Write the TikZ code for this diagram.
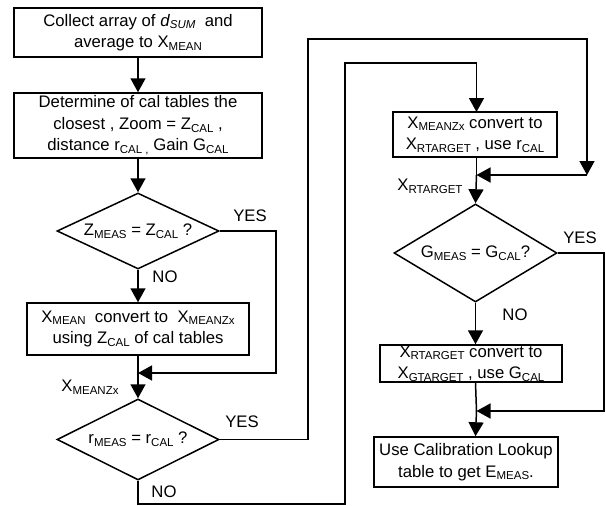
\documentclass[tikz,border=0pt]{standalone}
\usepackage{fontspec}
\setmainfont{Liberation Sans}
\usetikzlibrary{arrows.meta,shapes.geometric}
\newcommand\lowtext[1]{\raisebox{-0.3ex}{\fontsize{11.5}{11.5}\selectfont #1}}
\begin{document}
\begin{tikzpicture}[x=1pt,y=-1pt,
  every node/.style={font=\fontsize{16.7}{21.5}\selectfont},
  wire/.style={line width=1.5pt},
  flow/.style={wire,-{Triangle[width=15pt,length=14pt]}},
  proc/.style={draw,line width=1.5pt,rectangle,align=center,inner sep=0pt},
  test/.style={draw,line width=1.5pt,diamond,inner sep=0pt},
  tag/.style={inner sep=0pt}]
\useasboundingbox (0,0) rectangle (606,506);

% left column
\node[proc,minimum width=248pt,minimum height=49pt] (b1) at (138,32.5)
  {Collect array of \textit{d}\lowtext{\textit{SUM}}\ \ and\\average to X\lowtext{MEAN}};
\node[proc,minimum width=248pt,minimum height=65pt] (b2) at (138,125.5)
  {Determine of cal tables the\\closest , Zoom = Z\lowtext{CAL} ,\\distance r\lowtext{CAL ,} Gain G\lowtext{CAL}};
\node[test,minimum width=162pt,minimum height=76pt,
  label={[tag]center:Z\lowtext{MEAS} = Z\lowtext{CAL} ?}] (d1) at (138,231) {};
\node[proc,minimum width=222pt,minimum height=52pt] (b3) at (138,329)
  {X\lowtext{MEAN}\ \ convert to\ \ X\lowtext{MEANZx}\\using Z\lowtext{CAL} of cal tables};
\node[test,minimum width=162pt,minimum height=81pt,
  label={[tag]center:r\lowtext{MEAS} = r\lowtext{CAL} ?}] (d2) at (138,439.5) {};

% right column
\node[proc,minimum width=164pt,minimum height=45pt] (b4) at (475,134.5)
  {X\lowtext{MEANZx} convert to\\X\lowtext{RTARGET} , use r\lowtext{CAL}};
\node[test,minimum width=163pt,minimum height=98pt,
  label={[tag]center:G\lowtext{MEAS} = G\lowtext{CAL}?}] (d3) at (475.5,253) {};
\node[proc,minimum width=182pt,minimum height=37pt] (b5) at (471,363.5)
  {X\lowtext{RTARGET} convert to\\X\lowtext{GTARGET} , use G\lowtext{CAL}};
\node[proc,minimum width=184pt,minimum height=50pt] (b6) at (466,462)
  {Use Calibration Lookup\\table to get E\lowtext{MEAS}.};

% labels
\node[tag] (y1) at (250,216) {YES};
\node[tag] (n1) at (165,277) {NO};
\node[tag] (xz) at (90,387) {X\lowtext{MEANZx}};
\node[tag] (y2) at (242,422) {YES};
\node[tag] (n2) at (164,492) {NO};
\node[tag] (xr) at (430,186) {X\lowtext{RTARGET}};
\node[tag] (y3) at (580,238) {YES};
\node[tag] (n3) at (515,315) {NO};

% junction points
\coordinate (m1) at (138,373);
\coordinate (m2) at (476.5,175);
\coordinate (m3) at (476.5,411);
\coordinate (c1) at (587,175);

% left column connectors
\draw[flow] (b1.south) -- (b2.north);
\draw[flow] (b2.south) -- (d1.north);
\draw[flow] (d1.south) -- (b3.north);
\draw[flow] (b3.south) -- (d2.north);
\draw[flow] (d1.east) -- (276,231) -- (276,373) -- (m1);

% r loop to the right column
\draw[flow] (d2.east) -- (308,439.5) -- (308,39) -- (587,39) -- (c1);
\draw[flow] (c1) -- (m2);
\draw[flow] (d2.south) -- (138,504) -- (345,504) -- (345,63) -- (476.5,63) -- (476.5,112);

% right column connectors
\draw[wire] (476.5,157) -- (m2);
\draw[flow] (m2) -- (d3.north);
\draw[flow] (d3.south) -- (d3.south |- b5.north);
\draw[wire] (d3.south |- b5.south) -- (m3);
\draw[flow] (m3) -- (d3.south |- b6.north);
\draw[flow] (d3.east) -- (604,253) -- (604,411) -- (m3);
\end{tikzpicture}
\end{document}
